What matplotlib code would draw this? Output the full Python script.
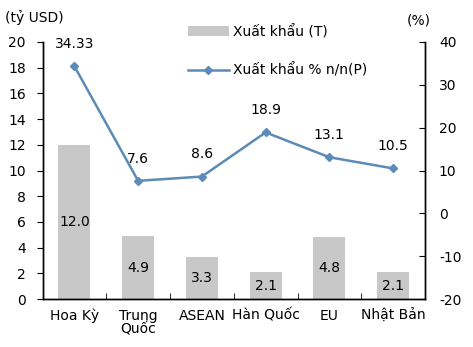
import matplotlib

matplotlib.use("Agg")
import matplotlib.pyplot as plt
import numpy as np

categories = ["Hoa Kỳ", "Trung\nQuốc", "ASEAN", "Hàn Quốc", "EU", "Nhật Bản"]
export_value = [12.0, 4.9, 3.3, 2.1, 4.8, 2.1]
export_growth = [34.33, 7.6, 8.6, 18.9, 13.1, 10.5]
growth_labels = ["34.33", "7.6", "8.6", "18.9", "13.1", "10.5"]

BAR_COLOR = "#c8c8c8"
LINE_COLOR = "#5b8bb6"

plt.rcParams["font.family"] = ["DejaVu Sans"]
plt.rcParams["font.size"] = 10
plt.rcParams["axes.unicode_minus"] = False

fig = plt.figure(figsize=(4.73, 3.47), dpi=100)
ax = fig.add_axes([0.0899, 0.138, 0.8086, 0.741])
ax2 = ax.twinx()

x = np.arange(len(categories))
bars = ax.bar(x, export_value, width=0.5, color=BAR_COLOR, label="Xuất khẩu (T)")
for xi, v in zip(x, export_value):
    ax.text(xi, v / 2, f"{v:.1f}", ha="center", va="center")

line, = ax2.plot(x, export_growth, color=LINE_COLOR, lw=1.8, marker="D", ms=4.5,
                 label="Xuất khẩu % n/n(P)")
for xi, v, s in zip(x, export_growth, growth_labels):
    ax2.annotate(s, (xi, v), xytext=(0, 11), textcoords="offset points",
                 ha="center", va="bottom")

ax.set_xlim(-0.5, len(categories) - 0.5)
ax.set_ylim(0, 20)
ax.set_yticks(range(0, 21, 2))
ax2.set_ylim(-20, 40)
ax2.set_yticks(range(-20, 41, 10))

ax.set_xticks(x)
ax.set_xticklabels(categories, linespacing=1.0)
ax.set_xticks(np.arange(0.5, len(categories) - 0.5, 1), minor=True)
ax.tick_params(axis="x", which="major", length=0, pad=7)
ax.tick_params(axis="x", which="minor", direction="in", length=4)
ax.tick_params(axis="y", direction="out", length=4, pad=8)
ax2.tick_params(axis="y", direction="in", length=4, pad=10)

for a in (ax, ax2):
    a.spines["top"].set_visible(False)
    for s in ("left", "right", "bottom"):
        a.spines[s].set_linewidth(1.0)

fig.text(0.01, 0.95, "(tỷ USD)", ha="left", va="center")
fig.text(0.885, 0.94, "(%)", ha="center", va="center")

fig.legend([bars, line], ["Xuất khẩu (T)", "Xuất khẩu % n/n(P)"],
           loc="upper left", bbox_to_anchor=(0.37, 0.965), frameon=False,
           labelspacing=1.75, handlelength=3.0, handletextpad=0.3)

fig.savefig("out.png", dpi=100)
